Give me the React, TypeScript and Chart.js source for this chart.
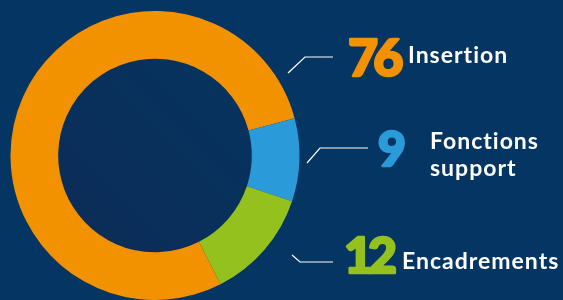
import React, { useEffect, useRef } from "react";
import { Chart, registerables } from "chart.js";

Chart.register(...registerables);

const categories = ["Insertion", "Fonctions support", "Encadrements"];
const values = [76, 9, 12];
const colors = ["#F39200", "#2A9AD8", "#95C11F"];
const labelLines = [["Insertion"], ["Fonctions", "support"], ["Encadrements"]];

const BG = "#053562";

const annotations = {
  id: "annotations",
  beforeDatasetsDraw(chart: any) {
    const ctx = chart.ctx;
    const arc = chart.getDatasetMeta(0).data[0];
    if (!arc) return;
    const { x, y, innerRadius } = arc.getProps(["x", "y", "innerRadius"], true);
    const g = ctx.createLinearGradient(x - innerRadius, y + innerRadius, x + innerRadius, y - innerRadius);
    g.addColorStop(0, "#0c2c57");
    g.addColorStop(1, "#05345f");
    ctx.save();
    ctx.beginPath();
    ctx.arc(x, y, innerRadius, 0, Math.PI * 2);
    ctx.fillStyle = g;
    ctx.fill();
    ctx.restore();
  },
  afterDraw(chart: any) {
    const ctx = chart.ctx;
    ctx.save();
    // leader lines
    ctx.strokeStyle = "#ffffff";
    ctx.lineWidth = 1.2;
    const lines = [
      [[288, 73], [305, 57], [333, 57]],
      [[307, 163], [320, 148], [368, 148]],
      [[292, 255], [300, 262], [333, 262]],
    ];
    lines.forEach((pts) => {
      ctx.beginPath();
      ctx.moveTo(pts[0][0], pts[0][1]);
      for (let i = 1; i < pts.length; i++) ctx.lineTo(pts[i][0], pts[i][1]);
      ctx.stroke();
    });

    // numbers
    ctx.textBaseline = "alphabetic";
    ctx.textAlign = "left";
    ctx.lineJoin = "round";
    const nums = [
      { x: 348, y: 76, size: 52 },
      { x: 378, y: 166, size: 48 },
      { x: 344, y: 273, size: 50 },
    ];
    nums.forEach((n, i) => {
      ctx.fillStyle = colors[i];
      ctx.strokeStyle = colors[i];
      ctx.lineWidth = 2.5;
      ctx.font = `900 ${n.size}px Lato`;
      (ctx as any).letterSpacing = "-5px";
      ctx.fillText(String(values[i]), n.x, n.y);
      ctx.strokeText(String(values[i]), n.x, n.y);
    });

    // labels
    ctx.fillStyle = "#ffffff";
    (ctx as any).letterSpacing = "1px";
    ctx.font = "700 23px Lato";
    ctx.fillText(labelLines[0][0], 408, 63);
    ctx.fillText(labelLines[1][0], 430, 149);
    ctx.fillText(labelLines[1][1], 430, 176);
    ctx.fillText(labelLines[2][0], 402, 269);
    ctx.restore();
  },
};

export default function App() {
  const ref = useRef<HTMLCanvasElement>(null);
  useEffect(() => {
    document.body.style.margin = "0";
    document.body.style.background = BG;
    const chart = new Chart(ref.current!, {
      type: "doughnut",
      data: {
        labels: categories,
        datasets: [
          {
            data: values,
            backgroundColor: colors,
            borderWidth: 0,
            hoverOffset: 0,
          },
        ],
      },
      options: {
        animation: false,
        responsive: false,
        maintainAspectRatio: false,
        cutout: "67%",
        rotation: 153,
        layout: { padding: { left: 10, right: 263, top: 11, bottom: -1 } },
        plugins: { legend: { display: false }, tooltip: { enabled: false } },
        events: [],
      },
      plugins: [annotations],
    });
    return () => chart.destroy();
  }, []);
  return (
    <div style={{ width: 563, height: 300, background: BG, overflow: "hidden" }}>
      <canvas ref={ref} width={563} height={300} style={{ display: "block" }} />
    </div>
  );
}
